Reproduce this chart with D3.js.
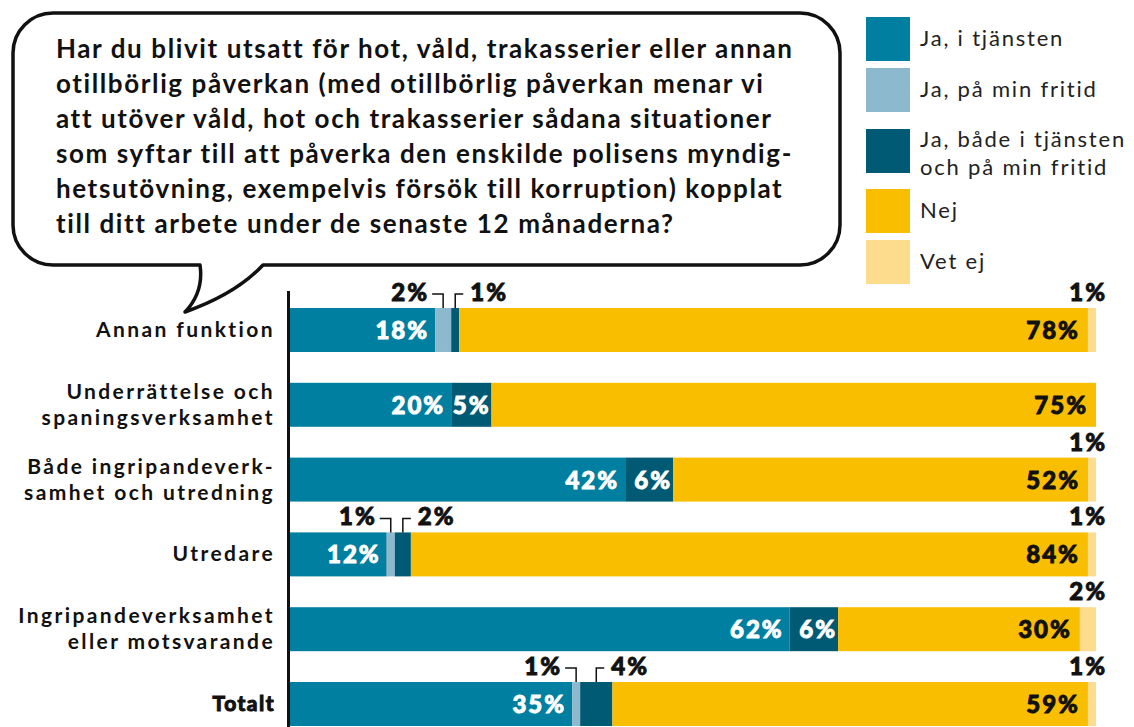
<!DOCTYPE html>
<html>
<head>
<meta charset="utf-8">
<script src="https://cdn.jsdelivr.net/npm/d3@7"></script>
<style>
  body { margin: 0; background: #fff; }
  svg { display: block; }
</style>
</head>
<body>
<script>
// question in the speech bubble
const questionLines = [
  "Har du blivit utsatt för hot, våld, trakasserier eller annan",
  "otillbörlig påverkan (med otillbörlig påverkan menar vi",
  "att utöver våld, hot och trakasserier sådana situationer",
  "som syftar till att påverka den enskilde polisens myndig-",
  "hetsutövning, exempelvis försök till korruption) kopplat",
  "till ditt arbete under de senaste 12 månaderna?"
];

const categories = ["annan", "underrattelse", "bada", "utredare", "ingripande", "totalt"];
const categoryLabels = [
  ["Annan funktion"],
  ["Underrättelse och", "spaningsverksamhet"],
  ["Både ingripandeverk-", "samhet och utredning"],
  ["Utredare"],
  ["Ingripandeverksamhet", "eller motsvarande"],
  ["Totalt"]
];

const seriesKeys = ["tjansten", "fritid", "bada", "nej", "vetej"];
const legendText = [["Ja, i tjänsten"], ["Ja, på min fritid"], ["Ja, både i tjänsten", "och på min fritid"], ["Nej"], ["Vet ej"]];

const tjansten = [18, 20, 42, 12, 62, 35];
const fritid   = [2, 0, 0, 1, 0, 1];
const bada     = [1, 5, 6, 2, 6, 4];
const nej      = [78, 75, 52, 84, 30, 59];
const vetej    = [1, 0, 1, 1, 2, 1];

const colors = {
  tjansten: "#007fa0",
  fritid: "#8db9ce",
  bada: "#005a73",
  nej: "#f9be00",
  vetej: "#fddc8e"
};

const width = 1134, height = 727;

const rows = categories.map((c, i) => ({
  cat: c, tjansten: tjansten[i], fritid: fritid[i], bada: bada[i], nej: nej[i], vetej: vetej[i]
}));

const svg = d3.select("body").append("svg")
    .attr("width", width)
    .attr("height", height);

// speech bubble
const b = { x0: 13, y0: 13, x1: 840, y1: 265, r: 40 };
const p = d3.path();
p.moveTo(b.x0 + b.r, b.y0);
p.lineTo(b.x1 - b.r, b.y0);
p.arcTo(b.x1, b.y0, b.x1, b.y0 + b.r, b.r);
p.lineTo(b.x1, b.y1 - b.r);
p.arcTo(b.x1, b.y1, b.x1 - b.r, b.y1, b.r);
p.lineTo(263, b.y1);
p.quadraticCurveTo(236, 294, 185, 312);
p.quadraticCurveTo(204, 292, 200, b.y1);
p.lineTo(b.x0 + b.r, b.y1);
p.arcTo(b.x0, b.y1, b.x0, b.y1 - b.r, b.r);
p.lineTo(b.x0, b.y0 + b.r);
p.arcTo(b.x0, b.y0, b.x0 + b.r, b.y0, b.r);
p.closePath();

svg.append("path")
    .attr("d", p.toString())
    .attr("fill", "#fff")
    .attr("stroke", "#111")
    .attr("stroke-width", 3.5)
    .attr("stroke-linejoin", "round");

svg.append("g").selectAll("text")
    .data(questionLines)
  .join("text")
    .attr("x", 56)
    .attr("y", (d, i) => 58 + i * 35)
    .style("font-family", "Lato, sans-serif")
    .style("font-weight", 700)
    .style("font-size", "26px")
    .style("letter-spacing", "1.6px")
    .style("fill", "#111")
    .text(d => d);

// legend
const legendY = [17, 68, 129, 189, 240];
const legend = svg.append("g").selectAll("g")
    .data(seriesKeys)
  .join("g")
    .attr("transform", (d, i) => `translate(866,${legendY[i]})`);

legend.append("rect")
    .attr("width", 44)
    .attr("height", 44)
    .attr("fill", d => colors[d]);

legend.append("text")
    .style("font-family", "Lato, sans-serif")
    .style("font-size", "22px")
    .style("letter-spacing", "1.8px")
    .style("fill", "#222")
  .selectAll("tspan")
    .data((d, i) => legendText[i].map((t, j, a) => ({ t, j, n: a.length })))
  .join("tspan")
    .attr("x", 54)
    .attr("y", d => d.n === 1 ? 29 : 18 + d.j * 28)
    .text(d => d.t);

// scales
const stack = d3.stack()
    .keys(seriesKeys)
    .offset(d3.stackOffsetExpand);
const series = stack(rows);

const x = d3.scaleLinear()
    .domain([0, 1])
    .range([290, 1096]);

const y = d3.scaleBand()
    .domain(categories)
    .range([308, 726])
    .paddingInner(0.412)
    .paddingOuter(0);

// bars
const barG = svg.append("g");
series.forEach(s => {
  barG.append("g")
      .attr("fill", colors[s.key])
    .selectAll("rect")
      .data(s)
    .join("rect")
      .attr("x", d => x(d[0]))
      .attr("y", d => y(d.data.cat))
      .attr("width", d => x(d[1]) - x(d[0]))
      .attr("height", y.bandwidth());
});

// axis line
svg.append("line")
    .attr("x1", 288.5).attr("x2", 288.5)
    .attr("y1", 291).attr("y2", height)
    .attr("stroke", "#111")
    .attr("stroke-width", 3);

// category labels
const catG = svg.append("g").selectAll("text")
    .data(categories)
  .join("text")
    .attr("text-anchor", "end")
    .style("font-family", "Lato, sans-serif")
    .style("font-size", "21px")
    .style("letter-spacing", d => d === "totalt" ? "1.5px" : "2.4px")
    .style("font-weight", 700)
    .style("fill", "#111")
    .style("stroke", d => d === "totalt" ? "#111" : "none")
    .style("stroke-width", 1.1);

catG.selectAll("tspan")
    .data((d, i) => categoryLabels[i].map((t, j, a) => ({ t, j, n: a.length, cat: d })))
  .join("tspan")
    .attr("x", 275)
    .attr("y", d => y(d.cat) + y.bandwidth() / 2 + 7 + (d.n === 1 ? 0 : (d.j - 0.5) * 26))
    .text(d => d.t);

// value labels (stroked to look heavier)
const ls = 2;
const labelG = svg.append("g")
    .style("font-family", "Lato, sans-serif")
    .style("font-weight", 900)
    .style("font-size", "24px")
    .style("letter-spacing", ls + "px")
    .style("stroke-width", 0.9);

const getSeries = k => series.find(s => s.key === k);
const mid = d => y(d.data.cat) + y.bandwidth() / 2;
const barTop = d => y(d.data.cat);

// inside labels
[["tjansten", 8, "#fff"], ["bada", 3, "#fff"], ["nej", 10, "#111"]].forEach(([k, pad, fill]) => {
  labelG.append("g").selectAll("text")
      .data(getSeries(k).filter(d => d.data[k] >= 5))
    .join("text")
      .attr("x", d => x(d[1]) - pad + ls)
      .attr("y", d => mid(d) + 9)
      .attr("text-anchor", "end")
      .style("fill", fill)
      .style("stroke", fill)
      .text(d => d.data[k] + "%");
});

// small labels above the bar with brackets
const bracket = svg.append("g")
    .attr("fill", "none")
    .attr("stroke", "#111")
    .attr("stroke-width", 1.5);

const smallFritid = getSeries("fritid").filter(d => d.data.fritid > 0 && d.data.fritid < 5);
bracket.selectAll("path.l")
    .data(smallFritid)
  .join("path")
    .attr("class", "l")
    .attr("d", d => {
      const cx = (x(d[0]) + x(d[1])) / 2;
      return `M${cx - 11},${barTop(d) - 14}H${cx}V${barTop(d)}`;
    });
labelG.append("g").selectAll("text")
    .data(smallFritid)
  .join("text")
    .attr("x", d => (x(d[0]) + x(d[1])) / 2 - 16 + ls)
    .attr("y", d => barTop(d) - 7)
    .attr("text-anchor", "end")
    .style("fill", "#111")
    .style("stroke", "#111")
    .text(d => d.data.fritid + "%");

const smallBada = getSeries("bada").filter(d => d.data.bada > 0 && d.data.bada < 5);
bracket.selectAll("path.r")
    .data(smallBada)
  .join("path")
    .attr("class", "r")
    .attr("d", d => {
      const cx = (x(d[0]) + x(d[1])) / 2;
      return `M${cx},${barTop(d)}V${barTop(d) - 14}H${cx + 8}`;
    });
labelG.append("g").selectAll("text")
    .data(smallBada)
  .join("text")
    .attr("x", d => (x(d[0]) + x(d[1])) / 2 + 15)
    .attr("y", d => barTop(d) - 7)
    .style("fill", "#111")
    .style("stroke", "#111")
    .text(d => d.data.bada + "%");

// vet ej above the bar end
labelG.append("g").selectAll("text")
    .data(getSeries("vetej").filter(d => d.data.vetej > 0))
  .join("text")
    .attr("x", d => x(d[1]) + 9 + ls)
    .attr("y", d => barTop(d) - 7)
    .attr("text-anchor", "end")
    .style("fill", "#111")
    .style("stroke", "#111")
    .text(d => d.data.vetej + "%");
</script>
</body>
</html>
